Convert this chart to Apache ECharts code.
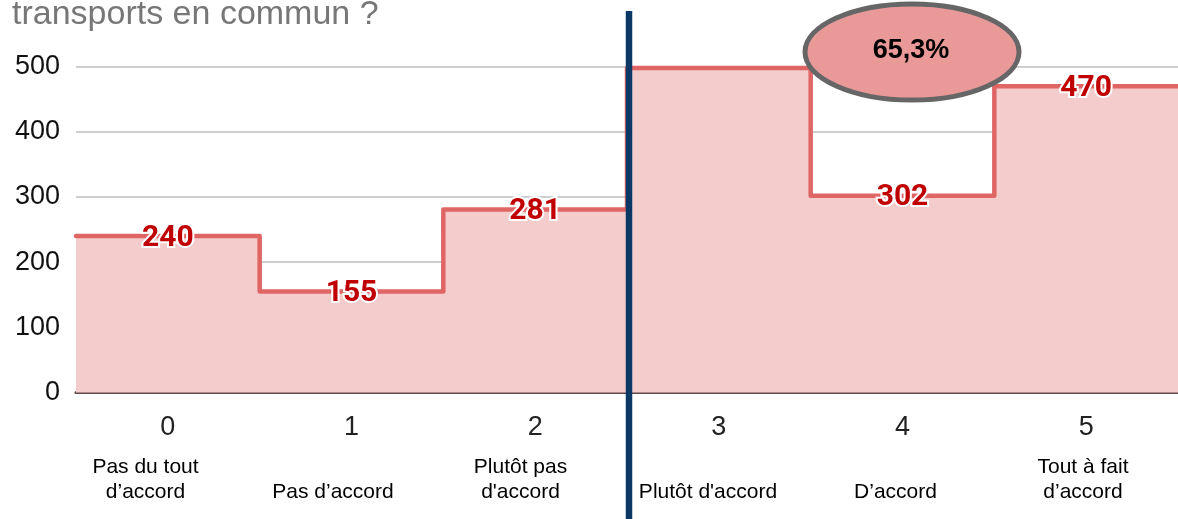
<!DOCTYPE html>
<html>
<head>
<meta charset="utf-8">
<script src="https://cdn.jsdelivr.net/npm/echarts@6/dist/echarts.min.js"></script>
<style>
html,body{margin:0;padding:0;background:#fff;}
#chart{width:1178px;height:519px;}
</style>
</head>
<body>
<div id="chart"></div>
<script>
const titleText = "transports en commun ?";
const categories = ["0", "1", "2", "3", "4", "5"];
const descriptions = ["Pas du tout\nd\u2019accord", "Pas d\u2019accord", "Plut\u00f4t pas\nd'accord", "Plut\u00f4t d'accord", "D\u2019accord", "Tout \u00e0 fait\nd\u2019accord"];
const values = [240, 155, 281, 498, 302, 470];
const hiddenLabels = [3];
const yTicks = [0, 100, 200, 300, 400, 500];
const badgeText = "65,3%";

const chart = echarts.init(document.getElementById('chart'), null, {renderer: 'canvas'});

// step data: extend first and last value to the band edges
const stepData = [];
stepData.push({value: [-0.5, values[0]], label: {show: false}});
values.forEach((v, i) => {
  stepData.push({value: [i, v], label: {show: hiddenLabels.indexOf(i) < 0}});
});
stepData.push({value: [values.length - 0.5, values[values.length - 1]], label: {show: false}});

const font = 'Arial, "Liberation Sans", sans-serif';

const option = {
  animation: false,
  backgroundColor: '#fff',
  grid: [
    {left: 76, top: 66.7, width: 1104, bottom: 126.5, containLabel: false},
    {left: 51.75, top: 66.7, width: 1125, bottom: 126.5, containLabel: false, show: false}
  ],
  xAxis: [
    {
      type: 'value', gridIndex: 0, min: -0.5, max: values.length - 0.5,
      axisLine: {show: true, onZero: false, lineStyle: {color: '#5e4a4a', width: 3}},
      axisTick: {show: false}, axisLabel: {show: false}, splitLine: {show: false}
    },
    {
      type: 'category', gridIndex: 0, data: categories, boundaryGap: true, position: 'bottom',
      axisLine: {show: false}, axisTick: {show: false}, splitLine: {show: false},
      axisLabel: {show: true, interval: 0, fontFamily: font, fontSize: 27, color: '#222', margin: 35, verticalAlign: 'middle'}
    },
    {
      type: 'category', gridIndex: 1, data: descriptions, boundaryGap: true, position: 'bottom',
      axisLine: {show: false}, axisTick: {show: false}, splitLine: {show: false},
      axisLabel: {show: true, interval: 0, fontFamily: font, fontSize: 21, lineHeight: 25, color: '#000', margin: 112, verticalAlign: 'bottom', align: 'center'}
    }
  ],
  yAxis: [
    {
      type: 'value', gridIndex: 0, min: yTicks[0], max: yTicks[yTicks.length - 1], interval: 100,
      axisLine: {show: false}, axisTick: {show: false},
      axisLabel: {fontFamily: font, fontSize: 27, color: '#111', margin: 16},
      splitLine: {show: true, lineStyle: {color: '#cfcfcf', width: 2}}
    },
    {
      type: 'value', gridIndex: 1, min: 0, max: 500, show: false, splitLine: {show: false}
    }
  ],
  series: [
    {
      type: 'line', xAxisIndex: 0, yAxisIndex: 0, step: 'middle',
      data: stepData,
      symbol: 'circle', symbolSize: 1, showSymbol: true,
      itemStyle: {color: 'rgba(0,0,0,0)'},
      lineStyle: {color: '#e06666', width: 4.5, join: 'round', cap: 'round'},
      areaStyle: {color: '#f4cccc', opacity: 1},
      label: {
        show: true, position: 'inside', offset: [0, 2],
        formatter: p => String(p.value[1]),
        fontFamily: 'Roboto, Arial, sans-serif', fontWeight: 'bold', fontSize: 30,
        color: '#c00000', textBorderColor: '#fff', textBorderWidth: 4
      },
      z: 3
    }
  ]
};
chart.setOption(option);

const lineX = chart.convertToPixel({xAxisIndex: 0}, 2.5);
chart.setOption({
  graphic: [
    {
      type: 'text', left: 12, top: -2, z: 10,
      style: {text: titleText, font: '34px ' + font, fill: '#777'}
    },
    {
      type: 'line', z: 20,
      shape: {x1: lineX + 2, y1: 11, x2: lineX + 2, y2: 519},
      style: {stroke: '#0b3864', lineWidth: 6.5}
    },
    {
      type: 'ellipse', z: 20,
      shape: {cx: 912, cy: 52, rx: 107, ry: 48},
      style: {fill: '#ea9999', stroke: '#666', lineWidth: 5}
    },
    {
      type: 'text', z: 21, x: 911, y: 51,
      style: {text: badgeText, font: 'bold 27px ' + font, fill: '#000', textAlign: 'center', textVerticalAlign: 'middle'}
    }
  ]
});
</script>
</body>
</html>
